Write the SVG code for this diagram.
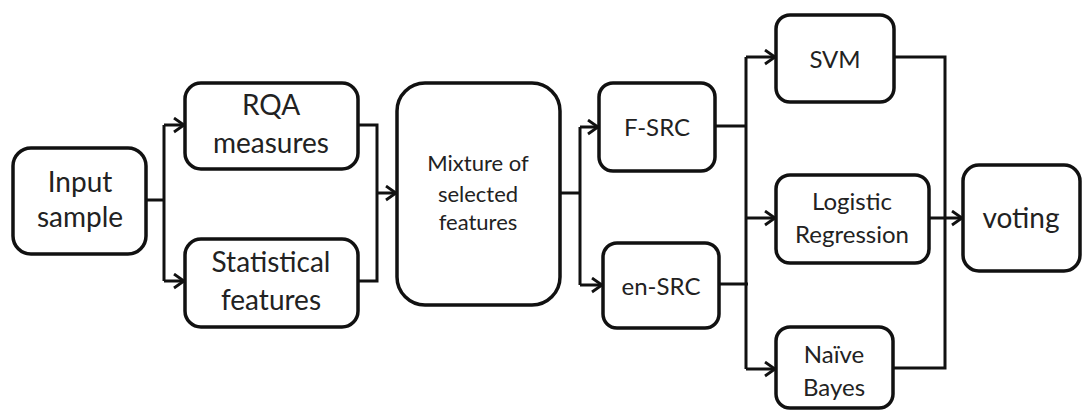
<svg xmlns="http://www.w3.org/2000/svg" width="1086" height="410" viewBox="0 0 1086 410">
<defs>
<style>
.box{fill:#fff;stroke:#111;stroke-width:3.5}
.t{font-family:Lato,"Open Sans","Liberation Sans",sans-serif;fill:#222;text-anchor:middle}
.ln{fill:none;stroke:#111;stroke-width:3}
.ar{fill:none;stroke:#111;stroke-width:3}
</style>
<marker id="arr" markerUnits="userSpaceOnUse" markerWidth="14" markerHeight="18" refX="11" refY="8" orient="auto" viewBox="0 0 14 18">
<path d="M1,1 L11,8 L1,15" fill="none" stroke="#111" stroke-width="2.8"/>
</marker>
</defs>
<rect width="1086" height="410" fill="#fff"/>
<g id="connectors">
<path class="ln" d="M146,200 H164 M164,125 V281 M358,125 H377 V281 H358"/>
<path class="ar" d="M164,125 H184" marker-end="url(#arr)"/>
<path class="ar" d="M164,281 H184" marker-end="url(#arr)"/>
<path class="ar" d="M377,193 H396" marker-end="url(#arr)"/>
<path class="ln" d="M560,193 H580 M580,127 V285"/>
<path class="ar" d="M580,127 H598" marker-end="url(#arr)"/>
<path class="ar" d="M580,285 H602" marker-end="url(#arr)"/>
<path class="ln" d="M715,126 H746 M719,284 H748 M746,57 V369"/>
<path class="ar" d="M746,57 H775" marker-end="url(#arr)"/>
<path class="ar" d="M746,218 H775" marker-end="url(#arr)"/>
<path class="ar" d="M746,369 H775" marker-end="url(#arr)"/>
<path class="ln" d="M894,57 H945 V368 H893 M929,218 H945"/>
<path class="ar" d="M945,218 H962" marker-end="url(#arr)"/>
</g>
<g id="input">
<rect class="box" x="13" y="148" width="133" height="106" rx="18"/>
<text class="t" font-size="28" x="80" y="192">Input</text>
<text class="t" font-size="28" x="80" y="227">sample</text>
</g>
<g id="rqa">
<rect class="box" x="185" y="83" width="173" height="86" rx="16"/>
<text class="t" font-size="28" x="271" y="115">RQA</text>
<text class="t" font-size="28" x="271" y="153">measures</text>
</g>
<g id="stat">
<rect class="box" x="185" y="239" width="173" height="88" rx="16"/>
<text class="t" font-size="28" x="271" y="272">Statistical</text>
<text class="t" font-size="28" x="271" y="310">features</text>
</g>
<g id="mixture">
<rect class="box" x="397" y="83" width="163" height="222" rx="28"/>
<text class="t" font-size="22" x="478" y="171">Mixture of</text>
<text class="t" font-size="22" x="478" y="202">selected</text>
<text class="t" font-size="22" x="478" y="230">features</text>
</g>
<g id="fsrc">
<rect class="box" x="599" y="83" width="116" height="88" rx="14"/>
<text class="t" font-size="24" x="657" y="136">F-SRC</text>
</g>
<g id="ensrc">
<rect class="box" x="603" y="243" width="116" height="85" rx="14"/>
<text class="t" font-size="24" x="661" y="295">en-SRC</text>
</g>
<g id="svm">
<rect class="box" x="776" y="15" width="118" height="87" rx="14"/>
<text class="t" font-size="24" x="835" y="68">SVM</text>
</g>
<g id="logistic">
<rect class="box" x="776" y="175" width="153" height="88" rx="14"/>
<text class="t" font-size="24" x="852" y="210">Logistic</text>
<text class="t" font-size="24" x="852" y="243">Regression</text>
</g>
<g id="naive">
<rect class="box" x="776" y="327" width="117" height="81" rx="14"/>
<text class="t" font-size="24" x="834" y="363">Naïve</text>
<text class="t" font-size="24" x="834" y="396">Bayes</text>
</g>
<g id="voting">
<rect class="box" x="963" y="165" width="117" height="106" rx="16"/>
<text class="t" font-size="28" x="1021" y="228">voting</text>
</g>
</svg>
